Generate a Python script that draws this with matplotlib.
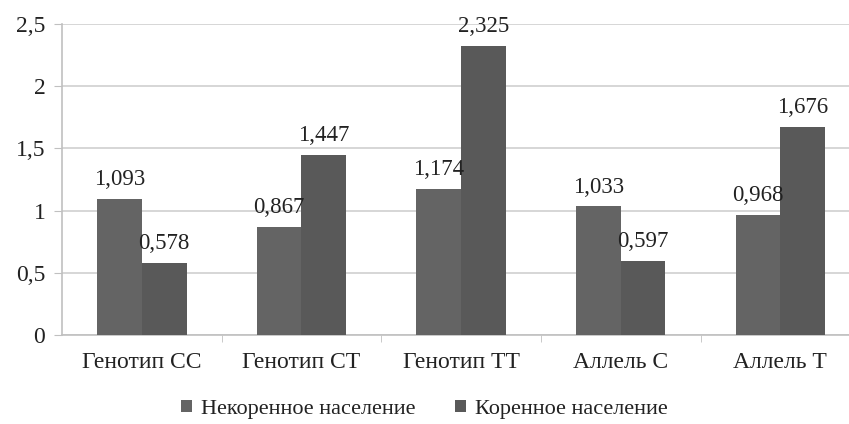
import matplotlib
matplotlib.use('Agg')
import matplotlib.pyplot as plt
import numpy as np

categories = ['Генотип СС', 'Генотип СТ', 'Генотип ТТ', 'Аллель С', 'Аллель Т']
non_native = [1.093, 0.867, 1.174, 1.033, 0.968]
native = [0.578, 1.447, 2.325, 0.597, 1.676]
series_names = ['Некоренное население', 'Коренное население']
yticks = [0, 0.5, 1, 1.5, 2, 2.5]
ytick_labels = ['0', '0,5', '1', '1,5', '2', '2,5']

plt.rcParams['font.family'] = ['Liberation Serif', 'DejaVu Serif']

fig = plt.figure(figsize=(8.49, 4.24), dpi=100)
ax = fig.add_axes([62 / 849, 89 / 424, 787 / 849, 311 / 424])

x = np.arange(len(categories))
w = 0.28
c1, c2 = '#646464', '#595959'
b1 = ax.bar(x - w / 2, non_native, w, color=c1, label=series_names[0], zorder=3)
b2 = ax.bar(x + w / 2, native, w, color=c2, label=series_names[1], zorder=3)

for bars, vals in ((b1, non_native), (b2, native)):
    for r, v in zip(bars, vals):
        ax.annotate(f'{v:.3f}'.replace('.', ','),
                    (r.get_x() + r.get_width() / 2, v),
                    xytext=(0, 10), textcoords='offset points',
                    ha='center', va='baseline', fontsize=16.5, color='#222222', zorder=4)

ax.set_xlim(-0.5, 4.43)
ax.set_ylim(0, 2.5)
ax.set_yticks(yticks)
ax.set_yticklabels(ytick_labels, fontsize=17)
ax.yaxis.grid(True, color='#d0d0d0', lw=1.2, zorder=0)
ax.tick_params(axis='y', length=6, color='#c0c0c0', pad=6, labelcolor='#222222')

ax.set_xticks(x)
ax.set_xticklabels(categories, fontsize=17, color='#222222')
ax.tick_params(axis='x', length=0, pad=12)
ax.set_xticks(np.arange(0.5, 4, 1), minor=True)
ax.tick_params(axis='x', which='minor', length=5, color='#c0c0c0')

for s in ['top', 'right']:
    ax.spines[s].set_visible(False)
for s in ['left', 'bottom']:
    ax.spines[s].set_color('#c0c0c0')
    ax.spines[s].set_linewidth(1.2)

fig.legend(loc='lower center', bbox_to_anchor=(0.50, -0.035), ncol=2, frameon=False,
           fontsize=16, handlelength=0.5, handleheight=0.5, handletextpad=0.4,
           columnspacing=1.8, labelcolor='#222222')

fig.savefig('out.png', dpi=100, facecolor='white')
